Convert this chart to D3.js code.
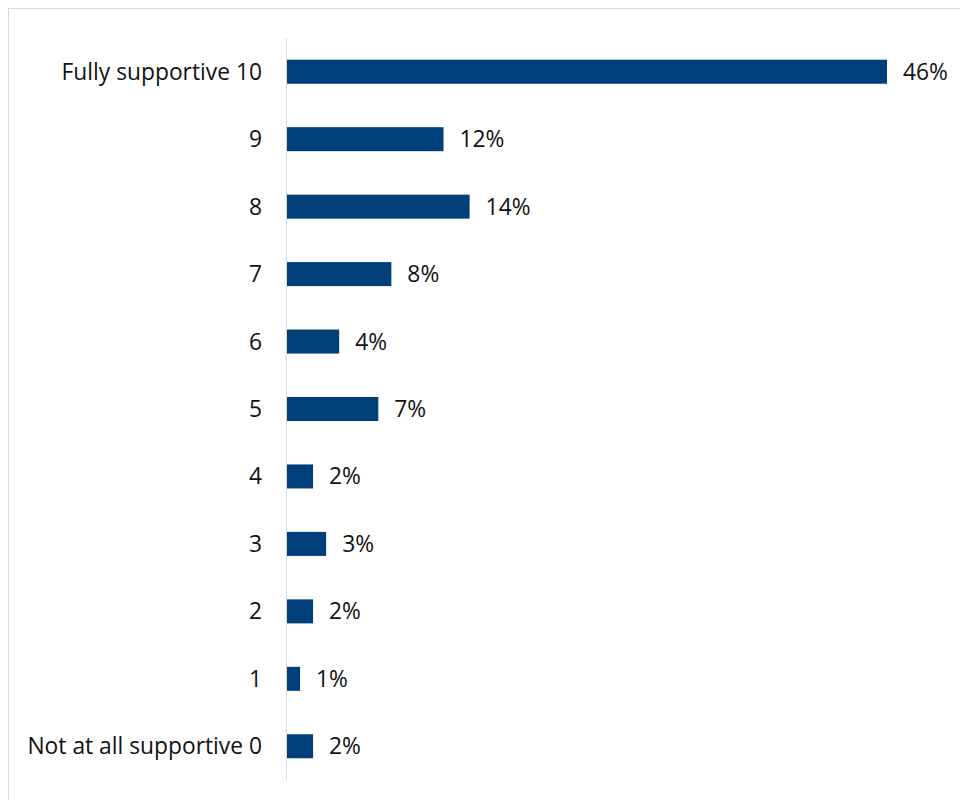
<!DOCTYPE html>
<html><head><meta charset="utf-8">
<script src="https://cdn.jsdelivr.net/npm/d3@7"></script>
<style>body{margin:0;background:#fff;} svg{display:block;}</style>
</head><body>
<svg id="chart" width="960" height="800"></svg>
<script>
const categories = ["Fully supportive 10","9","8","7","6","5","4","3","2","1","Not at all supportive 0"];
const values = [46,12,14,8,4,7,2,3,2,1,2];
const valueLabels = ["46%","12%","14%","8%","4%","7%","2%","3%","2%","1%","2%"];

const svg = d3.select("#chart");
svg.append("rect").attr("x",8.5).attr("y",8.5).attr("width",960).attr("height",800)
  .attr("fill","#fff").attr("stroke","#d9d9d9").attr("stroke-width",1);

const axisX = 287, plotTop = 38, plotBottom = 780;
const x = d3.scaleLinear().domain([0,46]).range([axisX, 887]);
const y = d3.scaleBand().domain(categories).range([plotTop, plotBottom]).paddingInner(0.644).paddingOuter(0.322);

const font = "'Segoe UI','Open Sans','Noto Sans',sans-serif";

svg.append("g").selectAll("rect").data(values).join("rect")
  .attr("x", x(0)).attr("y",(d,i)=>y(categories[i]))
  .attr("width", d=>x(d)-x(0)).attr("height", y.bandwidth())
  .attr("fill","#00407A");

svg.append("line").attr("x1",axisX-0.5).attr("x2",axisX-0.5).attr("y1",plotTop).attr("y2",plotBottom)
  .attr("stroke","#d9d9d9").attr("stroke-width",1);

svg.append("g").selectAll("text").data(categories).join("text")
  .attr("x",262).attr("y",d=>y(d)+y.bandwidth()/2).attr("dy","0.35em")
  .attr("text-anchor","end").attr("font-family",font).attr("font-size",22.8).attr("fill","#111")
  .text(d=>d);

svg.append("g").selectAll("text").data(values).join("text")
  .attr("x",d=>x(d)+16).attr("y",(d,i)=>y(categories[i])+y.bandwidth()/2).attr("dy","0.35em")
  .attr("font-family",font).attr("font-size",22.8).attr("fill","#111")
  .text((d,i)=>valueLabels[i]);
</script>
</body></html>
